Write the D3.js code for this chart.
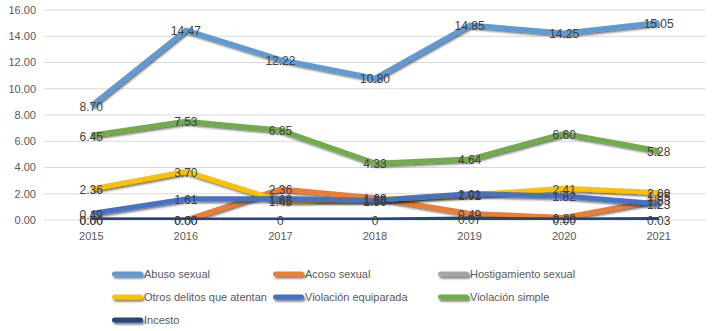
<!DOCTYPE html>
<html>
<head>
<meta charset="utf-8">
<script src="https://cdn.jsdelivr.net/npm/d3@7"></script>
<style>
  body { margin: 0; background: #fff; }
  svg { font-family: "Liberation Sans", Arial, sans-serif; }
</style>
</head>
<body>
<div id="chart"></div>
<script>
const years = ["2015", "2016", "2017", "2018", "2019", "2020", "2021"];
const yTicks = [0, 2, 4, 6, 8, 10, 12, 14, 16];

const abusoSexual = [8.7, 14.47, 12.22, 10.8, 14.85, 14.25, 15.05];
const acosoSexual = [0, 0, 2.36, 1.69, 0.49, 0.2, 1.53];
const hostigamiento = [null, null, null, null, null, null, 1.85];
const otrosDelitos = [2.36, 3.7, 1.45, 1.55, 1.92, 2.41, 2.09];
const violacionEquiparada = [0.49, 1.61, 1.63, 1.5, 2.01, 1.82, 1.23];
const violacionSimple = [6.45, 7.53, 6.85, 4.33, 4.64, 6.6, 5.28];
const incesto = [0, 0, 0, 0, 0.07, 0, 0.03];
const incestoLabels = ["0.00", "0.00", "0", "0", "0.07", "0.00", "0.03"];

const series = [
  { name: "Abuso sexual", values: abusoSexual, color: "#5B9BD5" },
  { name: "Acoso sexual", values: acosoSexual, color: "#ED7D31" },
  { name: "Hostigamiento sexual", values: hostigamiento, color: "#A5A5A5" },
  { name: "Otros delitos que atentan", values: otrosDelitos, color: "#FFC000" },
  { name: "Violación equiparada", values: violacionEquiparada, color: "#4472C4" },
  { name: "Violación simple", values: violacionSimple, color: "#70AD47" },
  { name: "Incesto", values: incesto, color: "#264478", labels: incestoLabels }
];

function init() {
  const W = 717, H = 331;
  const margin = { top: 10, left: 44, right: 11 };
  const plotH = 210;
  const plotW = W - margin.left - margin.right;

  const svg = d3.select("#chart").append("svg")
    .attr("width", W).attr("height", H);

  const defs = svg.append("defs");
  const f = defs.append("filter").attr("id", "shadow")
    .attr("filterUnits", "userSpaceOnUse")
    .attr("x", 0).attr("y", 0).attr("width", W).attr("height", H);
  f.append("feDropShadow").attr("dx", 1.5).attr("dy", 2)
    .attr("stdDeviation", 1.2).attr("flood-color", "#000").attr("flood-opacity", 0.55);
  defs.append("clipPath").attr("id", "plotclip").append("rect")
    .attr("x", -5).attr("y", -10).attr("width", plotW + 10).attr("height", plotH + 10);

  const g = svg.append("g").attr("transform", `translate(${margin.left},${margin.top})`);

  const x = d3.scaleBand().domain(years).range([0, plotW]);
  const y = d3.scaleLinear().domain([0, 16]).range([plotH, 0]);
  const cx = d => x(d) + x.bandwidth() / 2;

  // gridlines
  g.append("g").selectAll("line").data(yTicks).join("line")
    .attr("x1", 0).attr("x2", plotW)
    .attr("y1", d => y(d)).attr("y2", d => y(d))
    .attr("stroke", "#d9d9d9").attr("stroke-width", 1);

  // y axis labels
  g.append("g").selectAll("text").data(yTicks).join("text")
    .attr("x", -8).attr("y", d => y(d)).attr("dy", "0.35em")
    .attr("text-anchor", "end").attr("font-size", 11).attr("fill", "#595959")
    .text(d3.format(".2f"));

  // x axis labels
  g.append("g").selectAll("text").data(years).join("text")
    .attr("x", d => cx(d)).attr("y", plotH + 16).attr("dy", "0.35em")
    .attr("text-anchor", "middle").attr("font-size", 11).attr("fill", "#595959")
    .text(d => d);

  const line = d3.line()
    .defined(d => d != null)
    .x((d, i) => cx(years[i]))
    .y(d => y(d));

  const lines = g.append("g").attr("clip-path", "url(#plotclip)");
  lines.selectAll("path").data(series).join("path")
    .attr("d", d => line(d.values))
    .attr("fill", "none")
    .attr("stroke", d => d.color)
    .attr("stroke-width", 5)
    .attr("stroke-linejoin", "round")
    .attr("filter", "url(#shadow)");

  // data labels
  const fmt = d3.format(".2f");
  series.forEach(s => {
    const pts = s.values.map((v, i) => ({ v, i })).filter(p => p.v != null);
    g.append("g").selectAll("text").data(pts).join("text")
      .attr("x", p => cx(years[p.i]))
      .attr("y", p => y(p.v) + 1)
      .attr("dy", "0.35em")
      .attr("text-anchor", "middle")
      .attr("font-size", 12)
      .attr("fill", "#404040")
      .text(p => s.labels ? s.labels[p.i] : fmt(p.v));
  });

  // legend
  const cols = [112, 273, 438];
  const rows = [274, 297, 320];
  const legend = svg.append("g");
  series.forEach((s, i) => {
    const lx = cols[i % 3], ly = rows[Math.floor(i / 3)];
    const item = legend.append("g");
    item.append("rect")
      .attr("x", lx).attr("y", ly - 2.5).attr("width", 31).attr("height", 5)
      .attr("rx", 2.5)
      .attr("fill", s.color)
      .attr("filter", "url(#shadow)");
    item.append("text")
      .attr("x", lx + 32).attr("y", ly).attr("dy", "0.35em")
      .attr("font-size", 11).attr("fill", "#595959")
      .text(s.name);
  });
}

window.addEventListener("load", init);
</script>
</body>
</html>
